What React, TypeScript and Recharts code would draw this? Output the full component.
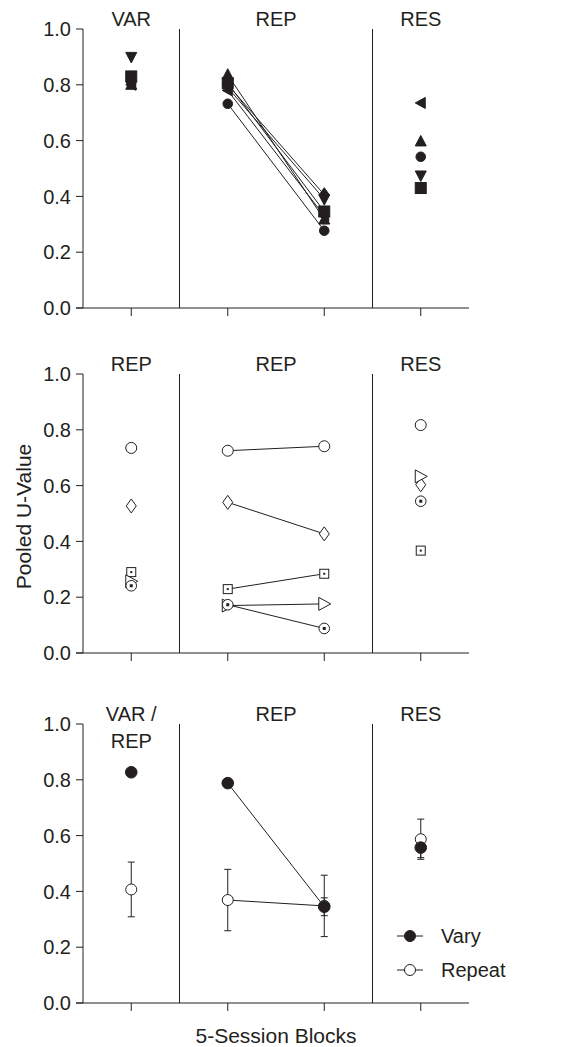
import React from "react";
import { ComposedChart, Scatter, XAxis, YAxis, ReferenceLine, ErrorBar, Legend } from "recharts";

const INK = "#231f20";
const FONT = '"Liberation Sans", Arial, Helvetica, sans-serif';

// x positions: 1 = first phase, 2 & 3 = REP blocks, 4 = RES
const blocks = [1, 2, 3, 4];
const yTicks = [0, 0.2, 0.4, 0.6, 0.8, 1.0];
const headerTicks = [1, 2.5, 4];

const topHeaders = ["VAR", "REP", "RES"];
const middleHeaders = ["REP", "REP", "RES"];
const bottomHeaders = ["VAR /\nREP", "REP", "RES"];

// top panel: individual subjects, filled symbols
const subjSquare = [0.83, 0.806, 0.346, 0.43];
const subjCircle = [0.81, 0.732, 0.277, 0.542];
const subjUp = [0.8, 0.836, 0.317, 0.597];
const subjDown = [0.9, 0.79, 0.39, 0.475];
const subjDiamond = [0.82, 0.8, 0.406, null];
const subjLeft = [0.8, 0.78, 0.33, 0.735];

// middle panel: individual subjects, open symbols
const openCircle = [0.735, 0.725, 0.741, 0.817];
const openDiamond = [0.527, 0.54, 0.427, 0.603];
const openSquareDot = [0.29, 0.229, 0.284, 0.367];
const openRight = [0.257, 0.17, 0.176, 0.633];
const openCircleDot = [0.241, 0.173, 0.088, 0.544];

// bottom panel: group means and error
const groupNames = ["Vary", "Repeat"];
const varyMean = [0.827, 0.788, 0.345, 0.557];
const varyErr = [0.01, 0.012, 0.032, 0.036];
const repeatMean = [0.407, 0.369, 0.348, 0.587];
const repeatErr = [0.098, 0.11, 0.11, 0.072];

const CHART_W = 567;
const HEAD_H = 29;
const PLOT_H = 279;
const AXIS_W = 83;
const RIGHT_PAD = 98;

type Kind = "square" | "circle" | "up" | "down" | "left" | "right" | "diamond" | "circleDot" | "squareDot";

function toPoints(values: (number | null)[], errs?: number[]) {
  return blocks
    .map((x, i) => ({ x, y: values[i], err: errs ? errs[i] : undefined }))
    .filter((p) => p.y != null);
}

function repPair(values: (number | null)[]) {
  return toPoints(values).filter((p) => p.x === 2 || p.x === 3);
}

function Marker({ cx, cy, kind, filled }: { cx?: number; cy?: number; kind: Kind; filled: boolean }) {
  if (cx == null || cy == null) return null;
  const p = { fill: filled ? INK : "#fff", stroke: INK, strokeWidth: 1 };
  const pts = (arr: number[][]) => arr.map(([dx, dy]) => `${cx + dx},${cy + dy}`).join(" ");
  switch (kind) {
    case "square":
      return <rect x={cx - 5.5} y={cy - 5.5} width={11} height={11} {...p} />;
    case "circle":
      return <circle cx={cx} cy={cy} r={filled ? 4.8 : 5.5} {...p} />;
    case "up":
      return <polygon points={pts([[0, -6], [5.5, 4.5], [-5.5, 4.5]])} {...p} />;
    case "down":
      return <polygon points={pts([[0, 6], [5.5, -4.5], [-5.5, -4.5]])} {...p} />;
    case "left":
      return <polygon points={pts([[-5.5, 0], [4.5, -5.5], [4.5, 5.5]])} {...p} />;
    case "right":
      return <polygon points={pts([[6.5, 0], [-5.5, -6.5], [-5.5, 6.5]])} {...p} />;
    case "diamond":
      return <polygon points={pts([[0, -7], [5, 0], [0, 7], [-5, 0]])} {...p} />;
    case "circleDot":
      return (
        <g>
          <circle cx={cx} cy={cy} r={5.3} {...p} />
          <rect x={cx - 1.5} y={cy - 1.5} width={3} height={3} fill={INK} />
        </g>
      );
    case "squareDot":
      return (
        <g>
          <rect x={cx - 4.5} y={cy - 4.5} width={9} height={9} {...p} />
          <rect x={cx - 1} y={cy - 1} width={2} height={2} fill={INK} />
        </g>
      );
  }
  return null;
}

const shapeOf = (kind: Kind, filled: boolean) => (props: any) => (
  <Marker cx={props.cx} cy={props.cy} kind={kind} filled={filled} />
);
const noShape = () => <g />;

// phase name drawn just above the plot, centred on its phase
function PhaseLabel({ viewBox, text }: any) {
  const x = viewBox.x;
  const lines = String(text).split("\n");
  return (
    <text x={x} y={viewBox.y - 3} textAnchor="middle" fontSize={20} fontFamily={FONT} fill={INK}>
      {lines.map((l, i) => (
        <tspan key={i} x={x} dy={i === 0 ? 0 : 27}>
          {l}
        </tspan>
      ))}
    </text>
  );
}

function YTitle({ viewBox, text }: any) {
  const cy = viewBox.y + viewBox.height / 2 + 3;
  return (
    <text x={23} y={cy} transform={`rotate(-90 23 ${cy})`} textAnchor="middle" dominantBaseline="central" fontSize={21} fontFamily={FONT} fill={INK}>
      {text}
    </text>
  );
}

function XTitle({ viewBox, text }: any) {
  return (
    <text x={viewBox.x + viewBox.width / 2} y={viewBox.y + 40} textAnchor="middle" fontSize={21} fontFamily={FONT} fill={INK}>
      {text}
    </text>
  );
}

function GroupLegend() {
  return (
    <svg width={150} height={60}>
      {groupNames.map((name, i) => {
        const y = 12 + i * 34;
        return (
          <g key={name}>
            <line x1={7} x2={33} y1={y} y2={y} stroke={INK} strokeWidth={1} />
            <circle cx={20} cy={y} r={5.5} fill={i === 0 ? INK : "#fff"} stroke={INK} strokeWidth={1} />
            <text x={51} y={y + 7} fontSize={20} fontFamily={FONT} fill={INK}>
              {name}
            </text>
          </g>
        );
      })}
    </svg>
  );
}

function Panel({ top, labels, bottomH, yLabel, xLabel, children }: any) {
  return (
    <div style={{ position: "absolute", left: 0, top }}>
      <ComposedChart
        width={CHART_W}
        height={HEAD_H + PLOT_H + bottomH}
        margin={{ top: HEAD_H, right: RIGHT_PAD, bottom: 0, left: 0 }}
      >
        <XAxis
          type="number"
          dataKey="x"
          domain={[0.5, 4.5]}
          ticks={blocks}
          height={bottomH}
          tickFormatter={() => ""}
          tickSize={8}
          axisLine={{ stroke: INK }}
          tickLine={{ stroke: INK }}
          label={xLabel ? <XTitle text={xLabel} /> : undefined}
        />
        <YAxis
          type="number"
          dataKey="y"
          domain={[0, 1]}
          ticks={yTicks}
          width={AXIS_W}
          tickSize={7}
          tickMargin={5}
          tickFormatter={(v: number) => v.toFixed(1)}
          tick={{ fontSize: 20, fill: INK, fontFamily: FONT }}
          axisLine={{ stroke: INK }}
          tickLine={{ stroke: INK }}
          label={yLabel ? <YTitle text={yLabel} /> : undefined}
        />
        <ReferenceLine x={1.5} stroke={INK} />
        <ReferenceLine x={3.5} stroke={INK} />
        {headerTicks.map((x, i) => (
          <ReferenceLine key={`h${i}`} x={x} stroke="none" label={<PhaseLabel text={labels[i]} />} />
        ))}
        <ReferenceLine
          segment={[
            { x: 0.4275, y: 0 },
            { x: 0.5, y: 0 },
          ]}
          stroke={INK}
          ifOverflow="visible"
        />
        {children}
      </ComposedChart>
    </div>
  );
}

const topSeries: any = [
  { values: subjCircle, kind: "circle" },
  { values: subjLeft, kind: "left" },
  { values: subjUp, kind: "up" },
  { values: subjDown, kind: "down" },
  { values: subjDiamond, kind: "diamond" },
  { values: subjSquare, kind: "square" },
];

const middleSeries: any = [
  { values: openCircle, kind: "circle" },
  { values: openDiamond, kind: "diamond" },
  { values: openSquareDot, kind: "squareDot" },
  { values: openRight, kind: "right" },
  { values: openCircleDot, kind: "circleDot" },
];

function subjectMarks(series: any[], filled: boolean) {
  const lines = series.map((s: any, i: number) => (
    <Scatter
      key={`l${i}`}
      data={repPair(s.values)}
      dataKey="y"
      line={{ stroke: INK, strokeWidth: 1 }}
      lineType="joint"
      shape={noShape}
      legendType="none"
      isAnimationActive={false}
    />
  ));
  const dots = series.map((s: any, i: number) => (
    <Scatter
      key={`d${i}`}
      data={toPoints(s.values)}
      dataKey="y"
      shape={shapeOf(s.kind, filled)}
      legendType="none"
      isAnimationActive={false}
    />
  ));
  return [...lines, ...dots];
}

export default function App() {
  return (
    <div
      style={{
        position: "absolute",
        left: 0,
        top: 0,
        width: 567,
        height: 1047,
        overflow: "hidden",
        background: "#fff",
      }}
    >
      <Panel top={0} labels={topHeaders} bottomH={30}>
        {subjectMarks(topSeries, true)}
      </Panel>
      <Panel top={345} labels={middleHeaders} bottomH={30} yLabel="Pooled U-Value">
        {subjectMarks(middleSeries, false)}
      </Panel>
      <Panel top={695} labels={bottomHeaders} bottomH={44} xLabel="5-Session Blocks">
        <Scatter
          data={repPair(repeatMean)}
          dataKey="y"
          line={{ stroke: INK, strokeWidth: 1 }}
          lineType="joint"
          shape={noShape}
          legendType="none"
          isAnimationActive={false}
        />
        <Scatter
          data={repPair(varyMean)}
          dataKey="y"
          line={{ stroke: INK, strokeWidth: 1 }}
          lineType="joint"
          shape={noShape}
          legendType="none"
          isAnimationActive={false}
        />
        <Scatter name="Repeat" data={toPoints(repeatMean, repeatErr)} dataKey="y" shape={shapeOf("circle", false)} isAnimationActive={false}>
          <ErrorBar dataKey="err" direction="y" width={3.5} stroke={INK} strokeWidth={1} isAnimationActive={false} />
        </Scatter>
        <Scatter name="Vary" data={toPoints(varyMean, varyErr)} dataKey="y" shape={(p: any) => <circle cx={p.cx} cy={p.cy} r={5.8} fill={INK} stroke={INK} />} isAnimationActive={false}>
          <ErrorBar dataKey="err" direction="y" width={3.5} stroke={INK} strokeWidth={1} isAnimationActive={false} />
        </Scatter>
        <Legend
          layout="vertical"
          align="center"
          verticalAlign="middle"
          wrapperStyle={{ left: 390, top: 229, width: 160 }}
          content={<GroupLegend />}
        />
      </Panel>
    </div>
  );
}
